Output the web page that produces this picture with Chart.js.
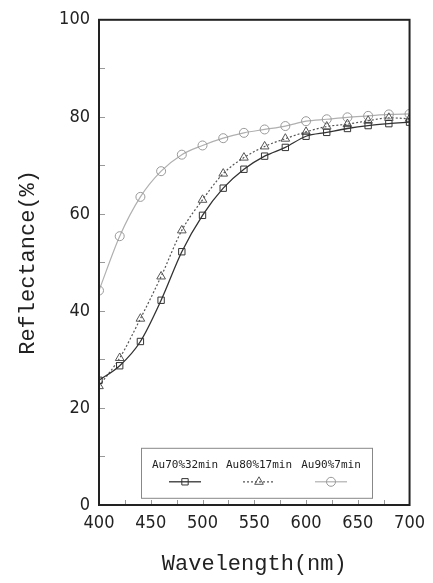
<!DOCTYPE html>
<html>
<head>
<meta charset="utf-8">
<script src="https://cdn.jsdelivr.net/npm/chart.js@4"></script>
<style>
html,body{margin:0;padding:0;background:#fff;}
#wrap{width:433px;height:583px;position:relative;}
</style>
</head>
<body>
<div id="wrap"><canvas id="c"></canvas></div>
<script>
const wavelengths = [400,420,440,460,480,500,520,540,560,580,600,620,640,660,680,700];
const seriesNames = ['Au70%32min','Au80%17min','Au90%7min'];
const au70 = [25.7,28.7,33.7,42.2,52.2,59.7,65.3,69.2,71.9,73.7,76.0,76.8,77.6,78.2,78.6,78.9];
const au80 = [24.5,30.3,38.4,47.1,56.6,62.9,68.3,71.6,73.9,75.5,76.9,78.0,78.5,79.2,79.8,79.6];
const au90 = [44.2,55.4,63.5,68.8,72.2,74.1,75.6,76.7,77.4,78.1,79.1,79.5,79.9,80.2,80.5,80.6];
const xTicks = [400,450,500,550,600,650,700];
const yTicks = [0,20,40,60,80,100];

const toXY = vals => wavelengths.map((w,i)=>({x:w,y:vals[i]}));
const tickFont = {family:"'Liberation Sans Narrow','DejaVu Sans Condensed',sans-serif", size:18};
const titleFont = {family:"'Liberation Mono','DejaVu Sans Mono',monospace", size:22};

const frame = {
  id:'frame',
  afterDatasetsDraw(chart){
    const ctx = chart.ctx, a = chart.chartArea;
    const xs = chart.scales.x, ys = chart.scales.y;
    ctx.save();
    ctx.strokeStyle = '#999'; ctx.lineWidth = 1;
    ctx.beginPath();
    for(let v=10; v<100; v+=10){
      const y = Math.round(ys.getPixelForValue(v))+0.5;
      ctx.moveTo(a.left, y); ctx.lineTo(a.left+6, y);
    }
    for(let v=425; v<700; v+=25){
      const x = Math.round(xs.getPixelForValue(v))+0.5;
      ctx.moveTo(x, a.bottom); ctx.lineTo(x, a.bottom-5);
    }
    ctx.stroke();
    ctx.strokeStyle = '#222'; ctx.lineWidth = 2;
    ctx.strokeRect(a.left, a.top, a.right-a.left, a.bottom-a.top);
    const bx = a.left+42, by = a.top+428, bw = 231, bh = 50;
    ctx.fillStyle = '#fff';
    ctx.fillRect(bx,by,bw,bh);
    ctx.strokeStyle = '#888'; ctx.lineWidth = 1;
    ctx.strokeRect(bx+0.5,by+0.5,bw,bh);
    const centers = [bx+44, bx+118, bx+190];
    ctx.font = "11px 'DejaVu Sans Mono', monospace";
    ctx.textAlign = 'center'; ctx.textBaseline = 'middle';
    chart.data.datasets.forEach((ds,i)=>{
      const cx = centers[i];
      ctx.fillStyle = '#222';
      ctx.fillText(ds.label, cx, by+17);
      const ly = by+34;
      ctx.strokeStyle = ds.borderColor; ctx.lineWidth = ds.borderWidth;
      ctx.setLineDash(ds.borderDash || []);
      ctx.beginPath(); ctx.moveTo(cx-16, ly); ctx.lineTo(cx+16, ly); ctx.stroke();
      ctx.setLineDash([]);
      ctx.fillStyle = 'rgba(255,255,255,0)';
      ctx.strokeStyle = ds.pointBorderColor; ctx.lineWidth = 1;
      Chart.helpers.drawPoint(ctx, {pointStyle: ds.pointStyle, radius: ds.pointRadius, rotation:0, borderWidth:1}, cx, ly);
    });
    ctx.restore();
  }
};

new Chart(document.getElementById('c'), {
  type:'line',
  data:{
    datasets:[
      {label:seriesNames[0], data:toXY(au70), borderColor:'#333', borderWidth:1.3,
       pointStyle:'rect', pointRadius:4.5, pointBorderColor:'#333', pointBackgroundColor:'rgba(0,0,0,0)', pointBorderWidth:1,
       cubicInterpolationMode:'monotone'},
      {label:seriesNames[1], data:toXY(au80), borderColor:'#555', borderWidth:1.2, borderDash:[2,2],
       pointStyle:'triangle', pointRadius:5, pointBorderColor:'#555', pointBackgroundColor:'rgba(0,0,0,0)', pointBorderWidth:1,
       cubicInterpolationMode:'monotone'},
      {label:seriesNames[2], data:toXY(au90), borderColor:'#b0b0b0', borderWidth:1.2,
       pointStyle:'circle', pointRadius:4.5, pointBorderColor:'#999', pointBackgroundColor:'rgba(0,0,0,0)', pointBorderWidth:1,
       cubicInterpolationMode:'monotone'}
    ]
  },
  options:{
    responsive:true, maintainAspectRatio:false, animation:false,
    layout:{padding:{left:0,right:21,top:15,bottom:0}},
    plugins:{legend:{display:false}, tooltip:{enabled:false}},
    scales:{
      x:{type:'linear', min:400, max:700,
        afterBuildTicks: s => { s.ticks = xTicks.map(v=>({value:v})); },
        afterFit: s => { s.height = 78; },
        grid:{display:false, drawTicks:false}, border:{display:false},
        ticks:{font:tickFont, color:'#222', padding:8, maxRotation:0},
        title:{display:true, text:'Wavelength(nm)', font:titleFont, color:'#222', padding:{top:0,bottom:6}}
      },
      y:{min:0, max:100,
        afterBuildTicks: s => { s.ticks = yTicks.map(v=>({value:v})); },
        afterFit: s => { s.width = 99; },
        grid:{display:false, drawTicks:false}, border:{display:false},
        ticks:{font:tickFont, color:'#222', padding:9},
        title:{display:true, text:'Reflectance(%)', font:titleFont, color:'#222', padding:{top:15,bottom:0}}
      }
    }
  },
  plugins:[frame]
});
</script>
</body>
</html>
